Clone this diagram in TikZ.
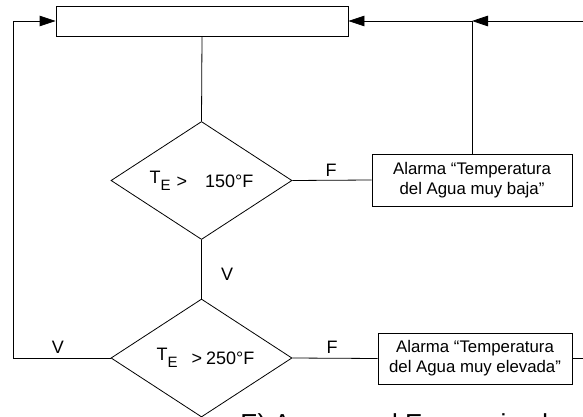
\documentclass[tikz,border=0pt]{standalone}
\usepackage{fontspec}
\setmainfont{Liberation Sans}
\usetikzlibrary{arrows.meta, shapes.geometric}
\newcommand{\tempE}{\raisebox{4pt}{T}\raisebox{-3pt}{\fontsize{15}{15}\selectfont E}}
\begin{document}
\begin{tikzpicture}[x=1pt, y=-1pt, >={Triangle[length=16pt, width=10.5pt]}, line width=0.8pt,
    box/.style={draw, fill=white, align=center, inner sep=0pt, font=\fontsize{16.8}{20}\selectfont},
    cond/.style={draw, fill=white, diamond, aspect=1.53, inner sep=0pt, minimum width=181pt, minimum height=118pt, font=\fontsize{18}{20}\selectfont},
    lbl/.style={font=\fontsize{18}{20}\selectfont, inner sep=0pt}]
                \useasboundingbox (0,0) rectangle (583,417);
                \node[box, minimum width=292pt, minimum height=30pt] (inicio) at (202,21) {};
                \node[cond] (cond1) at (201.5,180.5) {\tempE\hspace{6pt}>\hspace{18pt}150°F};
                \node[cond] (cond2) at (201.5,358) {\hspace{8pt}\tempE\hspace{14pt}>\hspace{4pt}250°F};
                \node[box, minimum width=200pt, minimum height=52pt] (baja) at (472,180) {Alarma “Temperatura\\del Agua muy baja”};
                \node[box, minimum width=194pt, minimum height=51pt] (alta) at (475,358.5) {Alarma “Temperatura\\del Agua muy elevada”};
                \coordinate (izq) at (13.5,21);
                \coordinate (union) at (472,21);
                \coordinate (der1) at (583,21);
                \coordinate (der2) at (583,358.5);

                \draw (inicio.south) -- (cond1.north);
                \draw (cond1.east) -- (baja.west);
                \draw (cond1.south) -- (cond2.north);
                \draw (cond2.east) -- (alta.west);
                \draw (alta.east) -- (der2);
                \draw[->] (cond2.west) -| (izq) -- (inicio.west);
                \draw (baja.north) -- (union);
                \draw[->] (union) -- (inicio.east);
                \draw[->] (der1) -- (union);

                \node[lbl] (f1) at (331,170) {F};
                \node[lbl] (v1) at (227,274) {V};
                \node[lbl] (v2) at (58,347) {V};
                \node[lbl] (f2) at (332,347) {F};
                \node[anchor=base west, inner sep=0pt, font=\fontsize{26}{30}\selectfont] (titulo) at (240,432) {E) Agua en el Economizador};
            \end{tikzpicture}
\end{document}
